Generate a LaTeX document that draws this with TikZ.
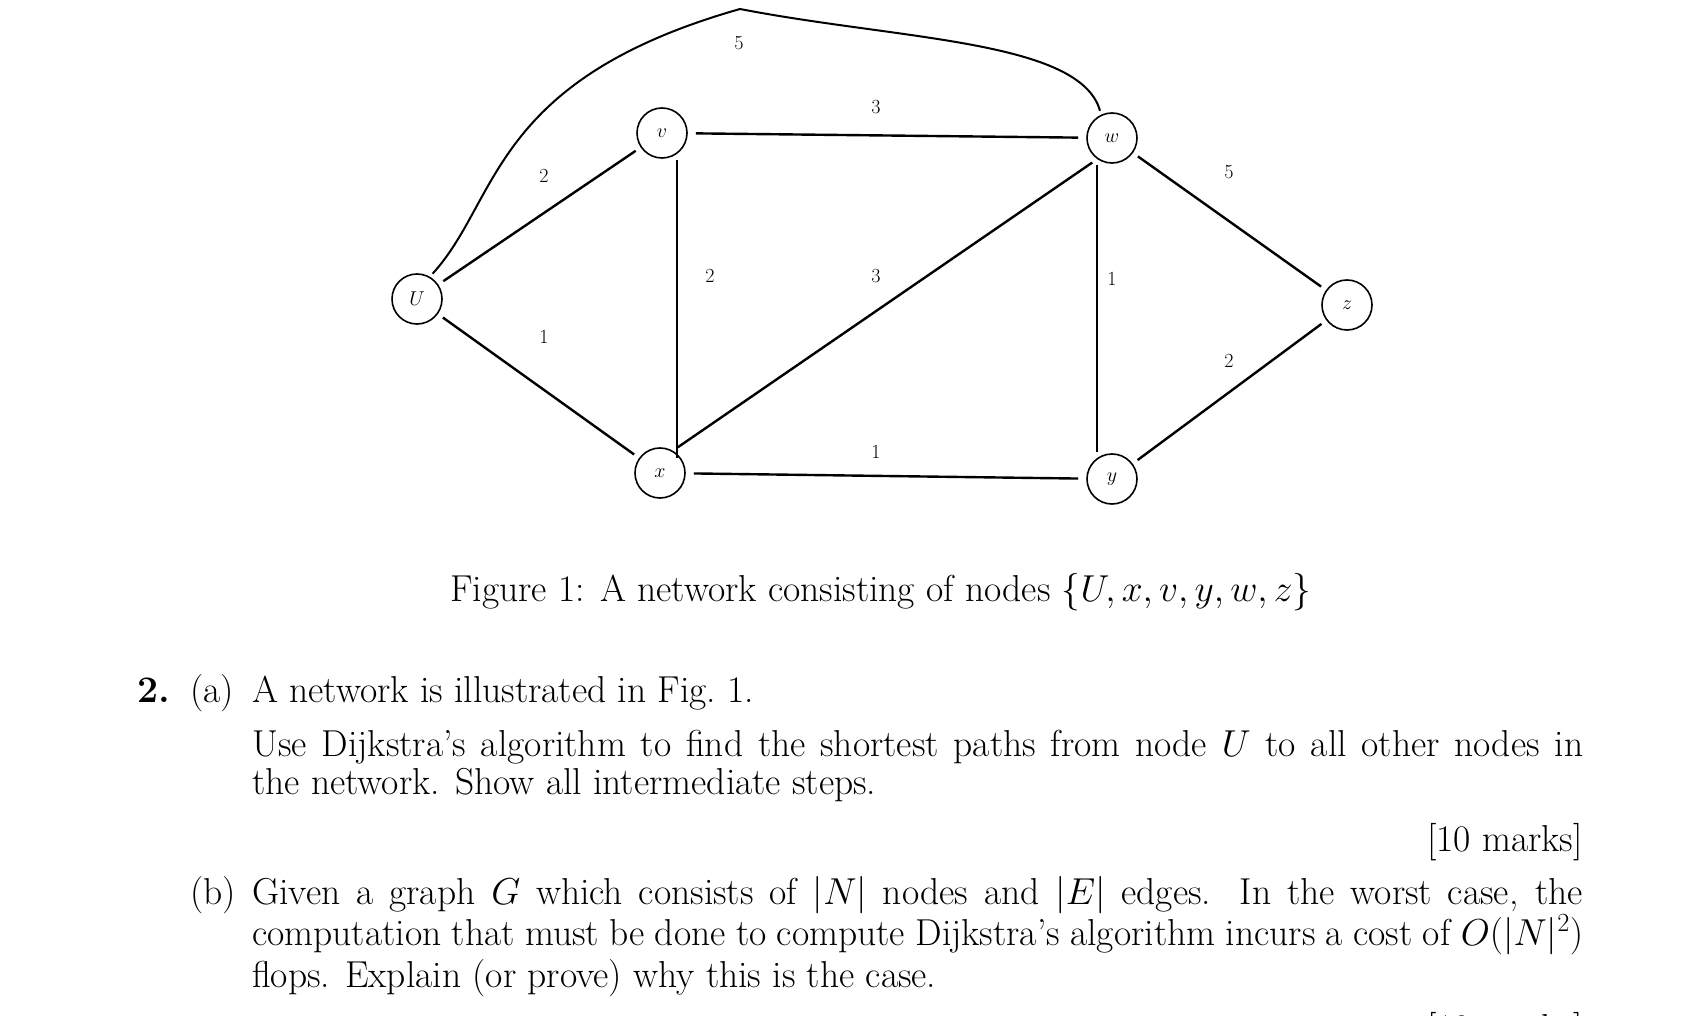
\RequirePackage{fix-cm}
\documentclass[tikz,border=0pt]{standalone}
\usepackage{amsmath}
\begin{document}
\begin{tikzpicture}[x=1pt,y=-1pt,
  vtx/.style={circle,draw,line width=1.6pt,minimum size=50pt,inner sep=0pt,font=\fontsize{20}{24}\selectfont},
  edge/.style={line width=2.4pt},
  wt/.style={font=\fontsize{20}{24}\selectfont},
  txt/.style={anchor=base west,inner sep=0pt,font=\fontsize{37.5}{41}\selectfont}]
\useasboundingbox (0,0) rectangle (1698,1016);
\node[vtx] (U) at (417,299) {$U$};
\node[vtx] (v) at (662,133) {$v$};
\node[vtx] (w) at (1112,138) {$w$};
\node[vtx] (z) at (1347,305) {$z$};
\node[vtx] (x) at (660,473) {$x$};
\node[vtx] (y) at (1112,479) {$y$};
\draw[edge,shorten <=6pt,shorten >=6pt] (U) -- (v);
\draw[edge,shorten <=6pt,shorten >=6pt] (U) -- (x);
\draw[edge,shorten <=8pt,shorten >=8pt] (v) -- (w);
\draw[edge,shorten <=8pt,shorten >=8pt] (x) -- (y);
\draw[edge,shorten <=6pt,shorten >=6pt] (w) -- (z);
\draw[edge,shorten <=6pt,shorten >=6pt] (y) -- (z);
\draw[edge,shorten <=6pt,shorten >=6pt] (v.-55) -- ++(0,310) coordinate (xa);
\draw[edge,shorten <=6pt,shorten >=6pt] (x.60) -- (w.-125);
\draw[edge,shorten <=6pt,shorten >=6pt] (w.-125) -- (y.125);
\draw[edge,line width=2pt,shorten <=4pt,shorten >=4pt] (U.60) .. controls (500,200) and (490,80) .. (740,9)
  .. controls (900,40) and (1080,40) .. (w.115);
\node[wt] at (739,43) {5};
\node[wt] at (876,107) {3};
\node[wt] at (544,176) {2};
\node[wt] at (544,337) {1};
\node[wt] at (710,276) {2};
\node[wt] at (876,276) {3};
\node[wt] at (1112,279) {1};
\node[wt] at (1229,172) {5};
\node[wt] at (1229,361) {2};
\node[wt] at (876,452) {1};
\node[anchor=base,inner sep=0pt,font=\fontsize{37.5}{41}\selectfont] (cap) at (881,601) {Figure 1: A network consisting of nodes $\{U,x,v,y,w,z\}$};
\node[txt] (n2) at (137,702) {\textbf{2.}};
\node[txt] (a) at (190,702) {(a)};
\node[txt] (a1) at (252,702) {A network is illustrated in Fig.~1.};
\node[txt] (a2) at (252,756) {\hbox to 1331pt{Use Dijkstra's algorithm to find the shortest paths from node $U$ to all other nodes in}};
\node[txt] (a3) at (252,794) {the network. Show all intermediate steps.};
\node[txt,anchor=base east] (m1) at (1583,851) {[10 marks]};
\node[txt] (b) at (190,904) {(b)};
\node[txt] (b1) at (252,904) {\hbox to 1331pt{Given a graph $G$ which consists of $|N|$ nodes and $|E|$ edges. In the worst case, the}};
\node[txt] (b2) at (252,945) {\hbox to 1331pt{computation that must be done to compute Dijkstra's algorithm incurs a cost of $O(|N|^2)$}};
\node[txt] (b3) at (252,987) {flops. Explain (or prove) why this is the case.};
\node[txt,anchor=base east] (m2) at (1583,1040) {[10 marks]};
\end{tikzpicture}
\end{document}
